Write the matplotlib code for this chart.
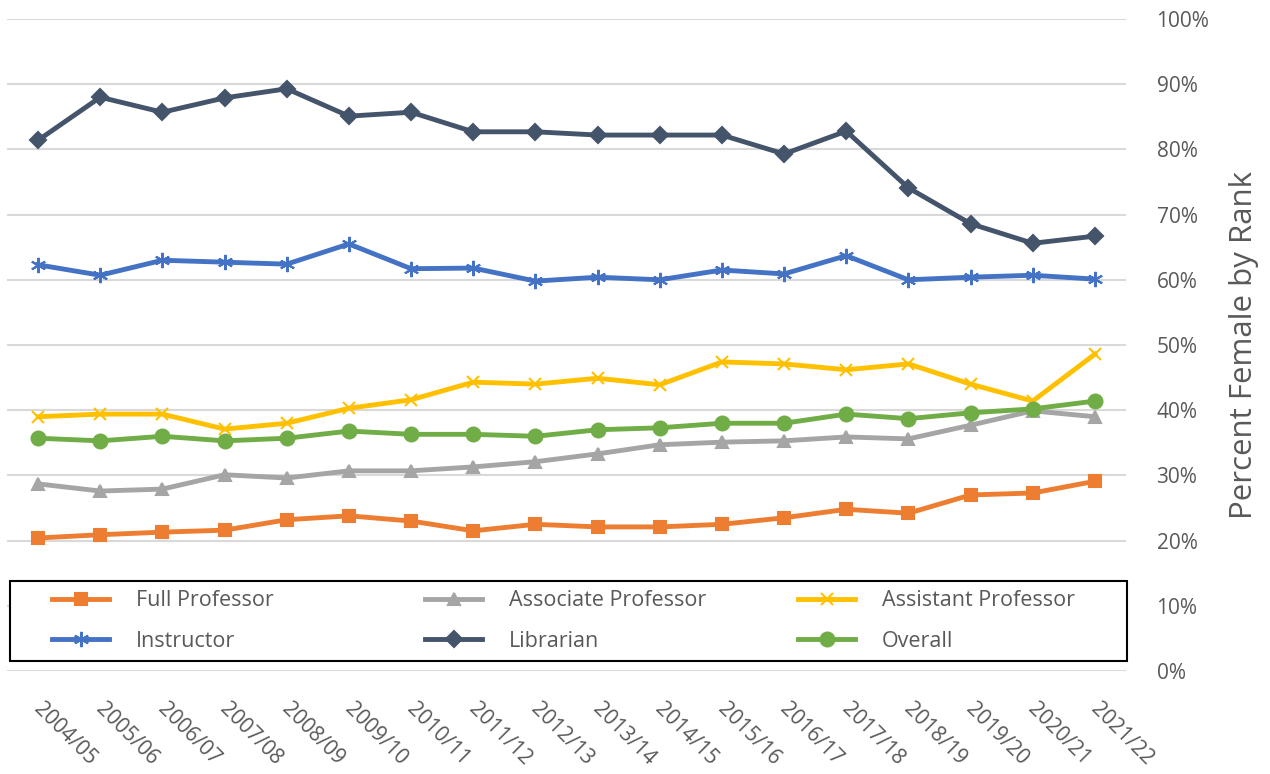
import matplotlib.pyplot as plt
import matplotlib.transforms as mtransforms
from matplotlib.patches import Rectangle
from matplotlib.ticker import FuncFormatter

years = ['2004/05', '2005/06', '2006/07', '2007/08', '2008/09', '2009/10',
         '2010/11', '2011/12', '2012/13', '2013/14', '2014/15', '2015/16',
         '2016/17', '2017/18', '2018/19', '2019/20', '2020/21', '2021/22']

full_prof = [20.4, 20.9, 21.3, 21.6, 23.2, 23.8, 23.0, 21.5, 22.5, 22.1,
             22.1, 22.5, 23.5, 24.8, 24.2, 27.0, 27.3, 29.1]
assoc_prof = [28.7, 27.6, 27.9, 30.1, 29.6, 30.7, 30.7, 31.3, 32.1, 33.3,
              34.7, 35.1, 35.3, 35.9, 35.6, 37.7, 39.9, 39.0]
asst_prof = [39.0, 39.4, 39.4, 37.1, 38.0, 40.3, 41.6, 44.3, 44.0, 44.9,
             43.9, 47.4, 47.1, 46.2, 47.1, 44.0, 41.4, 48.6]
instructor = [62.3, 60.7, 63.0, 62.7, 62.4, 65.5, 61.7, 61.8, 59.8, 60.4,
              60.0, 61.5, 60.9, 63.7, 60.0, 60.4, 60.7, 60.1]
librarian = [81.4, 88.0, 85.7, 87.9, 89.3, 85.1, 85.7, 82.7, 82.7, 82.2,
             82.2, 82.2, 79.3, 82.8, 74.1, 68.6, 65.6, 66.7]
overall = [35.7, 35.3, 36.0, 35.3, 35.7, 36.8, 36.3, 36.3, 36.0, 37.0,
           37.3, 38.0, 38.0, 39.4, 38.7, 39.6, 40.2, 41.4]

plt.rcParams['font.family'] = ['Open Sans', 'DejaVu Sans']

W, H = 1270, 774
fig = plt.figure(figsize=(12.7, 7.74), dpi=100)
ax = fig.add_axes([7 / W, 1 - 671 / H, 1119 / W, 652 / H])

x = list(range(len(years)))
series = [
    ('Full Professor', full_prof, '#ED7D31', 's', 9),
    ('Associate Professor', assoc_prof, '#A5A5A5', '^', 9),
    ('Assistant Professor', asst_prof, '#FFC000', 'x', 9),
    ('Instructor', instructor, '#4472C4', (6, 2, 0), 11),
    ('Librarian', librarian, '#44546A', 'D', 8),
    ('Overall', overall, '#70AD47', 'o', 10),
]
handles = []
for name, vals, col, mk, ms in series:
    ln, = ax.plot(x, vals, color=col, linewidth=3.5, marker=mk, markersize=ms,
                  markeredgewidth=1.5, markeredgecolor=col, label=name)
    handles.append(ln)

ax.set_xlim(-0.5, len(years) - 0.5)
ax.set_ylim(0, 100)
ax.set_yticks(range(0, 101, 10))
ax.yaxis.set_major_formatter(FuncFormatter(lambda v, p: f'{int(v)}%'))
ax.yaxis.tick_right()
ax.yaxis.set_label_position('right')
ax.grid(axis='y', color='#D9D9D9', linewidth=1.5)
ax.set_axisbelow(True)
for s in ax.spines.values():
    s.set_visible(False)
ax.tick_params(axis='y', length=0, pad=22, labelsize=15, labelcolor='#595959')
ax.tick_params(axis='x', length=0, pad=20, labelsize=15, labelcolor='#595959')
ax.set_xticks(x)
ax.set_xticklabels(years, rotation=-45, ha='left', va='top', rotation_mode='anchor')
shift = mtransforms.ScaledTranslation(6 / 100, 0, fig.dpi_scale_trans)
for lbl in ax.get_xticklabels():
    lbl.set_transform(lbl.get_transform() + shift)
ax.set_ylabel('Percent Female by Rank', fontsize=22.5, color='#595959', labelpad=14)

# white box with black border under the legend
ax.add_patch(Rectangle((10 / W, 1 - 661 / H), 1117 / W, 80 / H,
                       transform=fig.transFigure, facecolor='white',
                       edgecolor='black', linewidth=1.5, zorder=4,
                       clip_on=False))

# legend: three columns, each a separate legend, rows in reading order
col_x = [52, 425, 798]
for c in range(3):
    idx = [c, c + 3]
    leg = fig.legend([handles[i] for i in idx], [series[i][0] for i in idx],
                     loc='center left', bbox_to_anchor=(col_x[c] / W, 1 - 621 / H),
                     prop={'size': 15.5}, handlelength=2.65, frameon=False,
                     borderaxespad=0, labelspacing=0.92, borderpad=0,
                     handletextpad=1.25)
    for t in leg.get_texts():
        t.set_color('#595959')

fig.savefig('out.png', dpi=100)
